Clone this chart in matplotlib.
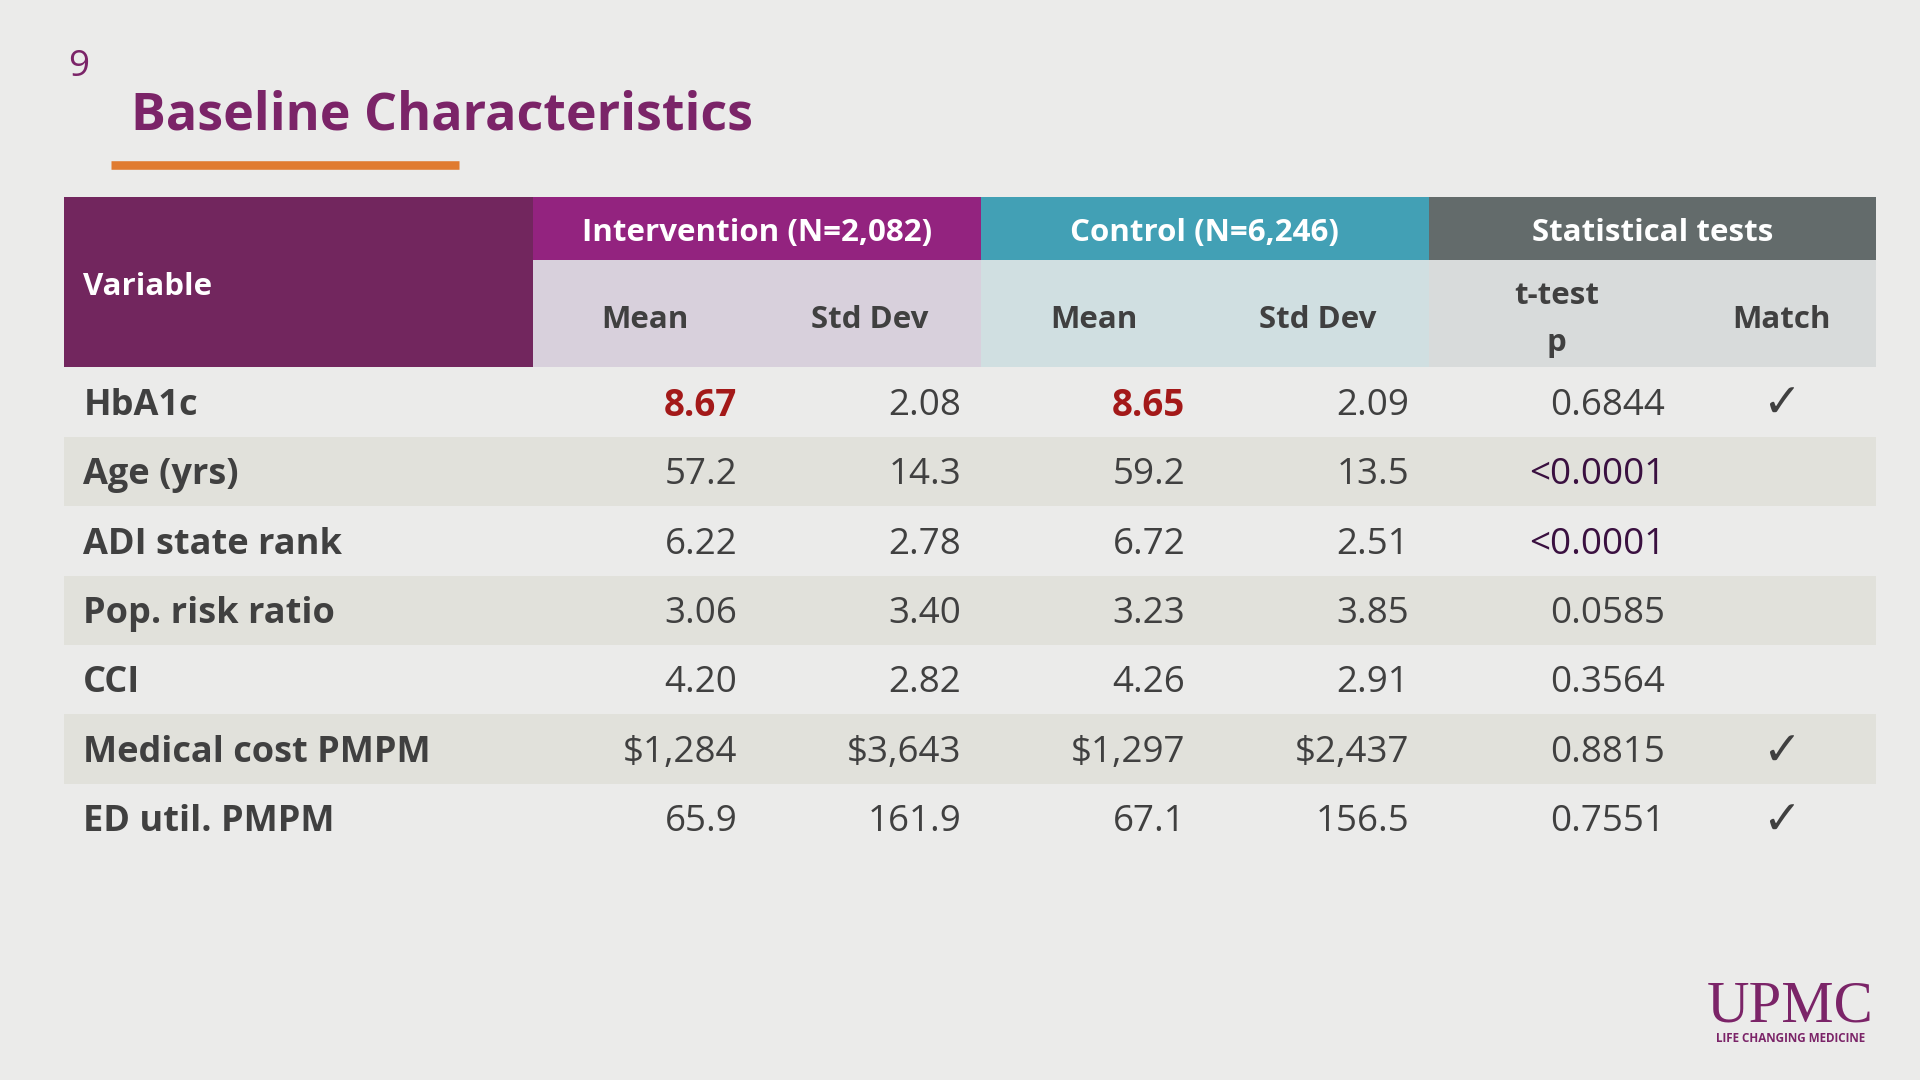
import matplotlib
matplotlib.use("Agg")
import matplotlib.pyplot as plt
from matplotlib.patches import Rectangle

variables = ["HbA1c", "Age (yrs)", "ADI state rank", "Pop. risk ratio", "CCI", "Medical cost PMPM", "ED util. PMPM"]
int_mean = ["8.67", "57.2", "6.22", "3.06", "4.20", "$1,284", "65.9"]
int_sd = ["2.08", "14.3", "2.78", "3.40", "2.82", "$3,643", "161.9"]
ctl_mean = ["8.65", "59.2", "6.72", "3.23", "4.26", "$1,297", "67.1"]
ctl_sd = ["2.09", "13.5", "2.51", "3.85", "2.91", "$2,437", "156.5"]
p_values = ["0.6844", "<0.0001", "<0.0001", "0.0585", "0.3564", "0.8815", "0.7551"]
match = ["✓", "", "", "", "", "✓", "✓"]
groups = ["Intervention (N=2,082)", "Control (N=6,246)", "Statistical tests"]

FONT = "Open Sans"
BG = "#EBEBEA"
fig = plt.figure(figsize=(19.2, 10.8), dpi=100)
fig.patch.set_facecolor(BG)
ax = fig.add_axes([0, 0, 1, 1])
ax.set_xlim(0, 1568); ax.set_ylim(882, 0); ax.axis("off")
S = 1.2245 * 0.72  # display px -> pt
DY = 3

def t(x, y, s, size, **kw):
    kw.setdefault("family", FONT)
    ax.text(x, y + DY, s, fontsize=size * S, **kw)

def rect(x0, y0, x1, y1, c):
    ax.add_patch(Rectangle((x0, y0), x1 - x0, y1 - y0, color=c, lw=0))

t(56, 52, "9", 30, color="#7B2468", va="center")
t(107, 92, "Baseline Characteristics", 42.5, color="#7B2468", weight="bold", va="center")
ax.plot([91, 375], [135, 135], color="#E07B30", lw=7 * S, solid_capstyle="butt")

xs = [52, 435, 801, 1167, 1532]
rect(52, 161, 435, 300, "#72265E")
top_c = ["#93237F", "#42A0B5", "#636B6B"]
sub_c = ["#D8D0DC", "#D0DFE1", "#D8DBDB"]
for i in range(3):
    rect(xs[i + 1], 161, xs[i + 2], 212, top_c[i])
    rect(xs[i + 1], 212, xs[i + 2], 300, sub_c[i])
    t((xs[i + 1] + xs[i + 2]) / 2, 187, groups[i], 25.5, color="white", weight="bold", ha="center", va="center")
t(68, 231, "Variable", 25.5, color="white", weight="bold", va="center")
hc = "#404040"
for x, s in [(527, "Mean"), (710, "Std Dev"), (893, "Mean"), (1076, "Std Dev"), (1455, "Match")]:
    t(x, 258, s, 25.5, color=hc, weight="bold", ha="center", va="center")
t(1271, 239, "t-test", 25.5, color=hc, weight="bold", ha="center", va="center")
t(1271, 277, "p", 25.5, color=hc, weight="bold", ha="center", va="center")

row_h = 56.7
for r in range(len(variables)):
    y0 = 300 + r * row_h
    if r % 2 == 1:
        rect(52, y0, 1532, y0 + row_h, "#E1E1DB")
    yc = y0 + row_h / 2
    t(68, yc, variables[r], 29.5, color=hc, weight="bold", va="center")
    red = r == 0
    t(602, yc, int_mean[r], 30, color="#A31919" if red else hc, weight="bold" if red else "normal", ha="right", va="center")
    t(785, yc, int_sd[r], 30, color=hc, ha="right", va="center")
    t(968, yc, ctl_mean[r], 30, color="#A31919" if red else hc, weight="bold" if red else "normal", ha="right", va="center")
    t(1151, yc, ctl_sd[r], 30, color=hc, ha="right", va="center")
    pc = "#3A1040" if p_values[r].startswith("<") else hc
    t(1360, yc, p_values[r], 30, color=pc, ha="right", va="center")
    if match[r]:
        t(1455, yc, match[r], 38, color=hc, ha="center", va="center", family="DejaVu Sans")

t(1462, 820, "UPMC", 48, color="#7B2468", family="Liberation Serif", ha="center", va="center")
t(1462, 845, "LIFE CHANGING MEDICINE", 9.5, color="#7B2468", weight="bold", ha="center", va="center")

fig.savefig("out.png", dpi=100, facecolor=BG)
